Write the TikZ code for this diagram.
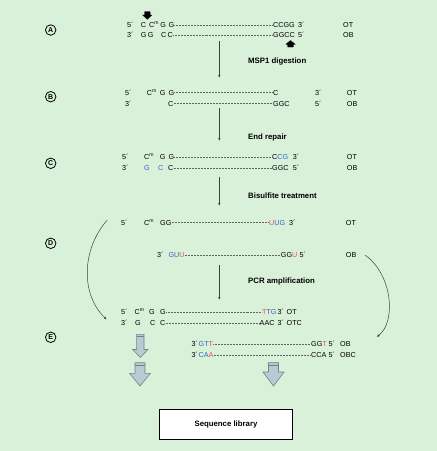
\documentclass[tikz,border=0pt]{standalone}
\usepackage{fontspec}
\setmainfont{Liberation Sans}
\usetikzlibrary{arrows.meta}
\definecolor{bg}{RGB}{217,240,217}
\definecolor{sblue}{RGB}{55,100,200}
\definecolor{sred}{RGB}{228,80,95}
\definecolor{bafill}{RGB}{186,202,210}
\definecolor{baline}{RGB}{115,130,136}
\newcommand\methm{\textsuperscript{m}}
\begin{document}
\begin{tikzpicture}[x=1pt,y=-1pt,
  seq/.style={font=\fontsize{7.2}{8}\selectfont, inner sep=0pt, text height=5.1pt, text depth=0pt, anchor=west},
  lab/.style={font=\fontsize{7.8}{9}\selectfont\bfseries, inner sep=0pt, anchor=west},
  circ/.style={draw, circle, line width=0.8pt, minimum size=10.5pt, inner sep=0pt, font=\fontsize{7}{8}\selectfont\bfseries},
  dotl/.style={draw=black!60, line width=0.5pt, dash pattern=on 0.6pt off 0.9pt},
  varrow/.style={draw=black!75, line width=0.6pt, -{Latex[length=3pt,width=2.4pt]}},
  curv/.style={draw=black!75, line width=0.5pt, -{Latex[length=3pt,width=2.4pt]}},
  barrow/.style={fill=bafill, draw=baline, line width=0.6pt},
  cutarrow/.style={fill=black, draw=black, line width=0.3pt}]
\fill[bg] (0,0) rectangle (437,451);
\useasboundingbox (0,0) rectangle (437,451);

% circled step letters
\node[circ] (cA) at (50.7,30) {A};
\node[circ] (cB) at (50.7,96.7) {B};
\node[circ] (cC) at (50.7,163.3) {C};
\node[circ] (cD) at (50.7,243.3) {D};
\node[circ] (cE) at (50.7,337.3) {E};

% Row A
\node[seq] (a5) at (127,25) {5´};
\node[seq] (at1) at (140.7,25) {C\hspace{3pt}C\methm\hspace{1.5pt}G\hspace{2.6pt}G};
\node[seq] (at2) at (273,25) {CCGG};
\node[seq] (at3) at (298,25) {3´};
\node[seq] (aot) at (343,25) {OT};
\node[seq] (a3) at (127,35) {3´};
\node[seq] (ab1) at (140.7,35) {G\hspace{1.3pt}G\hspace{7.6pt}C\hspace{1.4pt}C};
\node[seq] (ab2) at (273,35) {GGCC};
\node[seq] (ab3) at (298,35) {5´};
\node[seq] (aob) at (343,35) {OB};
\draw[dotl] (at1.east) -- (at2.west);
\draw[dotl] (ab1.east) -- (ab2.west);
\filldraw[cutarrow] (144.5,11.7) -- (150.1,11.7) -- (150.1,15) -- (152,15) -- (147.3,19.3) -- (142.6,15) -- (144.5,15) -- cycle;
\filldraw[cutarrow] (290.5,40.5) -- (295.2,44.3) -- (293.3,44.3) -- (293.3,47) -- (287.7,47) -- (287.7,44.3) -- (285.8,44.3) -- cycle;

\coordinate (v1s) at (219.3,41);
\coordinate (v1e) at (219.3,78);
\draw[varrow] (v1s) -- (v1e);
\node[lab] (l1) at (248,61) {MSP1 digestion};

% Row B
\node[seq] (b5) at (125,92.5) {5´};
\node[seq] (bt1) at (146.7,92.5) {C\methm\hspace{3pt}G\hspace{3.2pt}G};
\node[seq] (bt2) at (273,92.5) {C};
\node[seq] (bt3) at (315,92.5) {3´};
\node[seq] (bot) at (346.7,92.5) {OT};
\node[seq] (b3) at (125,103.5) {3´};
\node[seq] (bb1) at (168,103.5) {C};
\node[seq] (bb2) at (273,103.5) {GGC};
\node[seq] (bb3) at (315,103.5) {5´};
\node[seq] (bob) at (346.7,103.5) {OB};
\draw[dotl] (bt1.east) -- (bt2.west);
\draw[dotl] (bb1.east) -- (bb2.west);

\coordinate (v2s) at (219.3,108);
\coordinate (v2e) at (219.3,141);
\draw[varrow] (v2s) -- (v2e);
\node[lab] (l2) at (248,137) {End repair};

% Row C
\node[seq] (c5) at (122,157.3) {5´};
\node[seq] (ct1) at (144,157.3) {C\methm\hspace{5.7pt}G\hspace{3.2pt}G};
\node[seq] (ct2) at (272,157.3) {C\textcolor{sblue}{CG}};
\node[seq] (ct3) at (292.7,157.3) {3´};
\node[seq] (cot) at (346.7,157.3) {OT};
\node[seq] (c3) at (122,168) {3´};
\node[seq,text=sblue] (cb1) at (144,168) {G};
\node[seq,text=sblue] (cb2) at (158,168) {C};
\node[seq] (cb3) at (168,168) {C};
\node[seq] (cb4) at (272,168) {GGC};
\node[seq] (cb5) at (292.7,168) {5´};
\node[seq] (cob) at (346.7,168) {OB};
\draw[dotl] (ct1.east) -- (ct2.west);
\draw[dotl] (cb3.east) -- (cb4.west);

\coordinate (v3s) at (219.3,176.5);
\coordinate (v3e) at (219.3,206);
\draw[varrow] (v3s) -- (v3e);
\node[lab] (l3) at (248,196) {Bisulfite treatment};

% Row D
\node[seq] (d5) at (121,222.5) {5´};
\node[seq] (dt1) at (144,222.5) {C\methm};
\node[seq] (dt2) at (160,222.5) {GG};
\node[seq] (dt3) at (269,222.5) {\textcolor{sred}{U}\textcolor{sblue}{UG}};
\node[seq] (dt4) at (289,222.5) {3´};
\node[seq] (dot) at (345.7,222.5) {OT};
\draw[dotl] (dt2.east) -- (dt3.west);
\node[seq] (db0) at (157,255) {3´};
\node[seq] (db1) at (168.3,255) {\textcolor{sblue}{GU}\textcolor{sred}{U}};
\node[seq] (db2) at (280.7,255) {GG\textcolor{sred}{U}};
\node[seq] (db3) at (299.5,255) {5´};
\node[seq] (dob) at (345.7,255) {OB};
\draw[dotl] (db1.east) -- (db2.west);

\coordinate (v4s) at (219.3,265);
\coordinate (v4e) at (219.3,300);
\draw[varrow] (v4s) -- (v4e);
\node[lab] (l4) at (248,281.7) {PCR amplification};

% curved arrows
\coordinate (lc1) at (107.3,220);
\coordinate (lc2) at (106.7,319.5);
\draw[curv] (lc1) .. controls (81,250) and (81,295) .. (lc2);
\coordinate (rc1) at (365,255);
\coordinate (rc2) at (376.7,337);
\draw[curv] (rc1) .. controls (393,275) and (396,322) .. (rc2);

% Row E
\node[seq] (e5) at (121,312) {5´};
\node[seq] (et1) at (134.5,312) {C\methm};
\node[seq] (et2) at (149,312) {G};
\node[seq] (et3) at (160,312) {G};
\node[seq] (et4) at (262,312) {\textcolor{sred}{T}\textcolor{sblue}{TG}};
\node[seq] (et5) at (277.5,312) {3´};
\node[seq] (eot) at (286.5,312) {OT};
\draw[dotl] (et3.east) -- (et4.west);
\node[seq] (e3) at (121,323) {3´};
\node[seq] (eb1) at (135,323) {G};
\node[seq] (eb2) at (150,323) {C};
\node[seq] (eb3) at (160,323) {C};
\node[seq] (eb4) at (259.5,323) {AAC};
\node[seq] (eb5) at (277.5,323) {3´};
\node[seq] (eotc) at (286.5,323) {OTC};
\draw[dotl] (eb3.east) -- (eb4.west);

\node[seq] (f3) at (191.5,344) {3´};
\node[seq] (f1) at (198.5,344) {\textcolor{sblue}{GT}\textcolor{sred}{T}};
\node[seq] (f2) at (311,344) {GG\textcolor{sred}{T}};
\node[seq] (f5) at (328.5,344) {5´};
\node[seq] (fob) at (340,344) {OB};
\draw[dotl] (f1.east) -- (f2.west);
\node[seq] (g3) at (191.5,355) {3´};
\node[seq] (g1) at (198.5,355) {\textcolor{sblue}{CA}\textcolor{sred}{A}};
\node[seq] (g2) at (311,355) {CCA};
\node[seq] (g5) at (328.5,355) {5´};
\node[seq] (gobc) at (340,355) {OBC};
\draw[dotl] (g1.east) -- (g2.west);

% block arrows
\filldraw[barrow] (136.6,334.3) -- (144,334.3) -- (144,349.5) -- (148,349.5) -- (140.3,357.5) -- (132.6,349.5) -- (136.6,349.5) -- cycle;
\draw[baline, line width=0.5pt] (136.6,336.5) -- (144,336.5);
\filldraw[barrow] (135,362.7) -- (145,362.7) -- (145,373.3) -- (150.5,373.3) -- (140,386) -- (129.5,373.3) -- (135,373.3) -- cycle;
\draw[baline, line width=0.5pt] (135,365.3) -- (145,365.3);
\filldraw[barrow] (268.5,362.7) -- (278.5,362.7) -- (278.5,372) -- (284,372) -- (273.5,386) -- (263,372) -- (268.5,372) -- cycle;
\draw[baline, line width=0.5pt] (268.5,365.3) -- (278.5,365.3);

% sequence library
\node[draw, line width=1.3pt, fill=white, minimum width=133pt, minimum height=30pt, inner sep=0pt, font=\fontsize{7.8}{9}\selectfont\bfseries] (lib) at (226,424.3) {Sequence library};
\end{tikzpicture}
\end{document}
